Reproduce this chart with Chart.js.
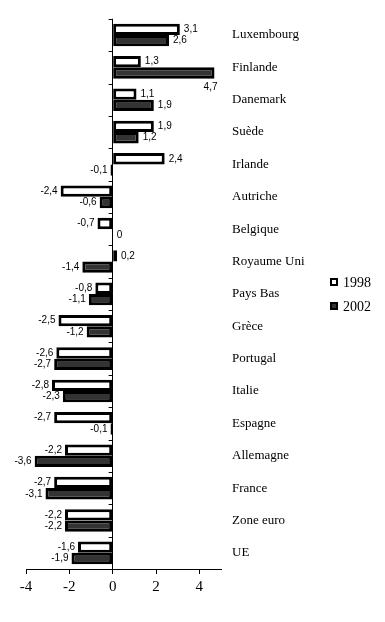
<!DOCTYPE html>
<html>
<head>
<meta charset="utf-8">
<script src="https://cdn.jsdelivr.net/npm/chart.js@4.4.1/dist/chart.umd.min.js"></script>
<style>
  html, body { margin: 0; padding: 0; background: #fff; }
  #wrap { width: 385px; height: 622px; position: relative; }
</style>
</head>
<body>
<div id="wrap"><canvas id="chart"></canvas></div>
<script>
// ── Data ──
const PAYS = ['Luxembourg', 'Finlande', 'Danemark', 'Suède', 'Irlande', 'Autriche', 'Belgique',
  'Royaume Uni', 'Pays Bas', 'Grèce', 'Portugal', 'Italie', 'Espagne', 'Allemagne', 'France',
  'Zone euro', 'UE'];
const V1998 = [3.1, 1.3, 1.1, 1.9, 2.4, -2.4, -0.7, 0.2, -0.8, -2.5, -2.6, -2.8, -2.7, -2.2, -2.7, -2.2, -1.6];
const V2002 = [2.6, 4.7, 1.9, 1.2, -0.1, -0.6, 0, -1.4, -1.1, -1.2, -2.7, -2.3, -0.1, -3.6, -3.1, -2.2, -1.9];
const X_TICKS = [-4, -2, 0, 2, 4];

const SERIF = '"Liberation Serif", "DejaVu Serif", serif';
const SANS = '"Liberation Sans", Arial, sans-serif';

const fmt = v => String(v).replace('.', ',');

// ── Value labels at bar ends ──
const valueLabels = {
  id: 'valueLabels',
  afterDatasetsDraw(chart) {
    const { ctx, chartArea } = chart;
    ctx.save();
    ctx.font = '10px ' + SANS;
    ctx.fillStyle = '#000';
    chart.data.datasets.forEach((ds, di) => {
      const meta = chart.getDatasetMeta(di);
      meta.data.forEach((bar, i) => {
        const v = ds.data[i];
        const txt = fmt(v);
        const w = ctx.measureText(txt).width;
        let x, y = bar.y;
        ctx.textBaseline = 'middle';
        if (v >= 0) {
          if (bar.x + 3 + w > chartArea.right) {
            ctx.textAlign = 'right';
            x = bar.x + 3;
            y = bar.y + bar.height / 2 + 9;
          } else {
            ctx.textAlign = 'left';
            x = bar.x + 4;
          }
        } else {
          ctx.textAlign = 'right';
          x = bar.x - 3;
        }
        ctx.fillText(txt, x, y);
      });
    });
    ctx.restore();
  }
};

// ── Small ticks on the zero line between categories ──
const zeroTicks = {
  id: 'zeroTicks',
  afterDatasetsDraw(chart) {
    const { ctx, scales } = chart;
    const x0 = scales.x.getPixelForValue(0);
    ctx.save();
    ctx.strokeStyle = '#000';
    ctx.lineWidth = 1;
    ctx.beginPath();
    for (let i = 0; i <= PAYS.length; i++) {
      const y = Math.round(scales.y.getPixelForValue(i - 0.5)) + 0.5;
      ctx.moveTo(x0 - 4, y);
      ctx.lineTo(x0, y);
    }
    ctx.stroke();
    ctx.restore();
  }
};

// ── Legend to the right, beside Pays Bas / Grèce ──
const sideLegend = {
  id: 'sideLegend',
  afterDraw(chart) {
    const { ctx } = chart;
    ctx.save();
    ctx.font = '14px ' + SERIF;
    ctx.textBaseline = 'middle';
    ctx.textAlign = 'left';
    chart.data.datasets.forEach((ds, i) => {
      const y = 282 + i * 24;
      ctx.fillStyle = ds.backgroundColor;
      ctx.fillRect(330, y - 4, 8, 8);
      ctx.strokeStyle = ds.borderColor;
      ctx.lineWidth = 2;
      ctx.strokeRect(331, y - 3, 6, 6);
      ctx.fillStyle = '#000';
      ctx.fillText(ds.label, 343, y + 1);
    });
    ctx.restore();
  }
};

new Chart(document.getElementById('chart'), {
  type: 'bar',
  data: {
    labels: PAYS,
    datasets: [
      {
        label: '1998', data: V1998,
        backgroundColor: '#ffffff', borderColor: '#000000',
        borderWidth: 3, borderSkipped: false,
        barPercentage: 1, categoryPercentage: 0.7
      },
      {
        label: '2002', data: V2002,
        backgroundColor: '#333333', borderColor: '#000000',
        borderWidth: 3, borderSkipped: false,
        barPercentage: 1, categoryPercentage: 0.7
      }
    ]
  },
  options: {
    indexAxis: 'y',
    responsive: true, maintainAspectRatio: false,
    animation: false,
    layout: { padding: { top: 18, bottom: 22, left: 26, right: 59 } },
    plugins: {
      legend: { display: false },
      tooltip: { enabled: false }
    },
    scales: {
      x: {
        min: -4, max: 5,
        afterBuildTicks: s => { s.ticks = X_TICKS.map(v => ({ value: v })); },
        border: { display: true, color: '#000', width: 1 },
        grid: {
          color: c => (c.tick && c.tick.value === 0) ? '#000' : 'rgba(0,0,0,0)',
          tickColor: '#000', tickLength: 5, lineWidth: 1
        },
        ticks: { color: '#000', padding: 4, font: { family: SERIF, size: 15 } }
      },
      y: {
        position: 'right',
        border: { display: false },
        grid: { display: false, drawTicks: false },
        afterFit: s => { s.width = 105; },
        ticks: { color: '#000', padding: 11, font: { family: SERIF, size: 13 } }
      }
    }
  },
  plugins: [valueLabels, zeroTicks, sideLegend]
});
</script>
</body>
</html>
